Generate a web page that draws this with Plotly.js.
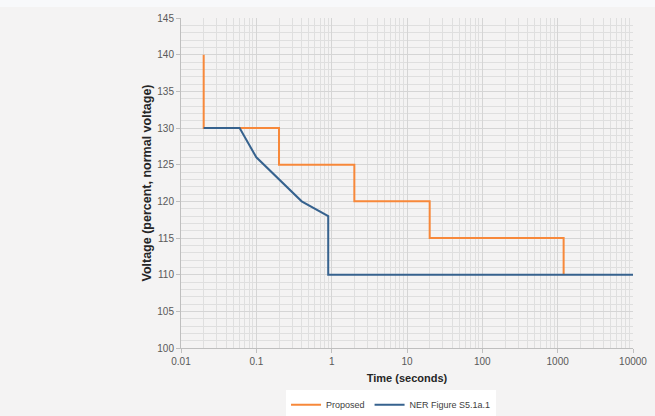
<!DOCTYPE html>
<html>
<head>
<meta charset="utf-8">
<script src="https://cdn.plot.ly/plotly-3.0.1.min.js"></script>
<style>html,body{margin:0;padding:0;background:#f4f3f3;}#chart{width:655px;height:416px;}</style>
</head>
<body>
<div id="chart"></div>
<script>
// Data
var proposedTime = [0.02, 0.02, 0.2, 0.2, 2, 2, 20, 20, 1200, 1200];
var proposedVoltage = [140, 130, 130, 125, 125, 120, 120, 115, 115, 110];
var nerTime = [0.02, 0.06, 0.1, 0.2, 0.4, 0.9, 0.9, 10000];
var nerVoltage = [130, 130, 126, 123, 120, 118, 110, 110];
var xTickVals = [0.01, 0.1, 1, 10, 100, 1000, 10000];
var xTickText = ['0.01', '0.1', '1', '10', '100', '1000', '10000'];
var seriesNames = ['Proposed', 'NER Figure S5.1a.1'];

var traces = [
  {x: proposedTime, y: proposedVoltage, name: seriesNames[0], mode: 'lines',
   line: {color: '#f7883a', width: 2}},
  {x: nerTime, y: nerVoltage, name: seriesNames[1], mode: 'lines',
   line: {color: '#36628e', width: 2}}
];

var layout = {
  width: 655, height: 416,
  margin: {l: 181, r: 22, t: 18, b: 68},
  paper_bgcolor: '#f4f3f3',
  plot_bgcolor: '#f4f3f3',
  font: {family: 'Liberation Sans, Arial, sans-serif', size: 10, color: '#595959'},
  showlegend: true,
  legend: {orientation: 'h', xref: 'container', yref: 'container',
           x: 0.597, xanchor: 'center', y: 0.027, yanchor: 'middle',
           bgcolor: '#ffffff', font: {size: 9, color: '#404040'},
           itemwidth: 30, tracegroupgap: 0},
  xaxis: {
    type: 'log', range: [-2, 4],
    tickvals: xTickVals, ticktext: xTickText,
    showgrid: true, gridcolor: '#d5d5d5', gridwidth: 1,
    minor: {dtick: 'D1', showgrid: true, gridcolor: '#dfdfdf', gridwidth: 1, ticks: ''},
    showline: true, linecolor: '#bfbfbf', linewidth: 1,
    ticks: 'outside', ticklen: 4, tickcolor: '#bfbfbf',
    zeroline: false,
    tickfont: {size: 10, color: '#595959'},
    title: {text: 'Time (seconds)', standoff: 8,
            font: {size: 11, color: '#262626', family: 'Liberation Sans, Arial, sans-serif', weight: 'bold'}}
  },
  yaxis: {
    range: [100, 145], dtick: 5, tick0: 100,
    showgrid: true, gridcolor: '#d5d5d5', gridwidth: 1,
    minor: {dtick: 1, showgrid: true, gridcolor: '#dfdfdf', gridwidth: 1, ticks: ''},
    showline: true, linecolor: '#bfbfbf', linewidth: 1,
    ticks: 'outside', ticklen: 4, tickcolor: '#bfbfbf',
    zeroline: false,
    tickfont: {size: 10, color: '#595959'},
    title: {text: 'Voltage (percent, normal voltage)', standoff: 2,
            font: {size: 12.5, color: '#262626', family: 'Liberation Sans, Arial, sans-serif', weight: 'bold'}}
  },
  shapes: [
    {type: 'rect', xref: 'paper', yref: 'paper', x0: -181/452, x1: 1 + 22/452,
     y0: 1 + 11/330, y1: 1 + 18/330, fillcolor: '#f8f9fb', line: {width: 0}, layer: 'below'}
  ]
};

Plotly.newPlot('chart', traces, layout, {displayModeBar: false});
</script>
</body>
</html>
